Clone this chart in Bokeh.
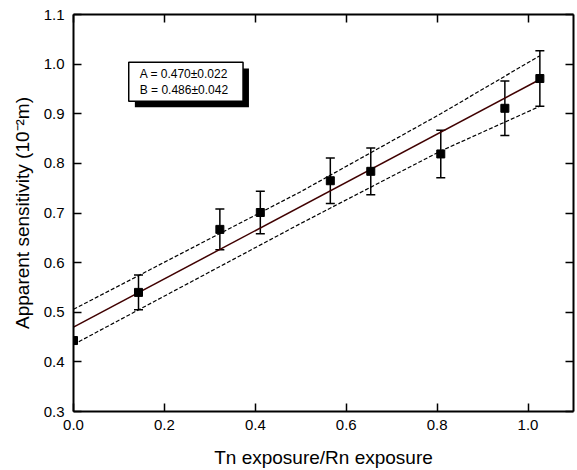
from bokeh.plotting import figure
from bokeh.models import (ColumnDataSource, Whisker, TeeHead, FixedTicker,
                          PrintfTickFormatter, LinearAxis, BoxAnnotation, Label)
from bokeh.embed import file_html
from bokeh.resources import INLINE

# ---- data ----
x_vals = [0.0, 0.143, 0.322, 0.411, 0.565, 0.654, 0.808, 0.949, 1.026]
y_vals = [0.443, 0.540, 0.667, 0.701, 0.765, 0.784, 0.819, 0.911, 0.971]
y_err = [0.0, 0.035, 0.041, 0.043, 0.046, 0.047, 0.048, 0.055, 0.056]

fit_x = [0.0, 1.026]
fit_y = [0.470, 0.969]

band_x = [0.0, 0.5, 0.808, 1.026]
band_upper = [0.506, 0.743, 0.900, 1.017]
band_lower = [0.435, 0.679, 0.825, 0.915]

x_ticks = [0.0, 0.2, 0.4, 0.6, 0.8, 1.0]
y_ticks = [0.3, 0.4, 0.5, 0.6, 0.7, 0.8, 0.9, 1.0, 1.1]

legend_lines = ["A = 0.470\u00b10.022", "B = 0.486\u00b10.042"]

FONT = "Liberation Sans"

p = figure(width=577, height=470, x_range=(0.0, 1.1), y_range=(0.3, 1.1),
           output_backend="svg", toolbar_location=None,
           min_border_left=73, min_border_right=4, min_border_top=14, min_border_bottom=10)
p.grid.visible = False
p.outline_line_color = None
p.background_fill_color = "white"
p.border_fill_color = "white"

for ax in (p.xaxis[0], p.yaxis[0]):
    ax.axis_line_width = 2
    ax.major_tick_in = 8
    ax.major_tick_out = 0
    ax.major_tick_line_width = 1.5
    ax.minor_tick_line_color = None
    ax.major_label_text_font = FONT
    ax.major_label_text_font_size = "15px"
    ax.major_label_text_color = "black"
    ax.axis_label_text_font = FONT
    ax.axis_label_text_font_size = "19px"
    ax.axis_label_text_font_style = "normal"
    ax.axis_label_text_color = "black"

p.xaxis[0].ticker = FixedTicker(ticks=x_ticks)
p.yaxis[0].ticker = FixedTicker(ticks=y_ticks)
p.xaxis[0].formatter = PrintfTickFormatter(format="%.1f")
p.yaxis[0].formatter = PrintfTickFormatter(format="%.1f")
p.xaxis[0].major_label_standoff = 8
p.yaxis[0].major_label_standoff = 9
p.xaxis[0].axis_label = "Tn exposure/Rn exposure"
p.yaxis[0].axis_label = "Apparent sensitivity (10\u207b\u00b2m)"
p.xaxis[0].axis_label_standoff = 14
p.yaxis[0].axis_label_standoff = 8

# mirror axes (ticks only)
top = LinearAxis(ticker=FixedTicker(ticks=x_ticks),
                 major_label_overrides={t: "" for t in x_ticks},
                 axis_line_width=2, major_tick_in=8, major_tick_out=0,
                 major_tick_line_width=1.5, minor_tick_line_color=None,
                 major_label_standoff=0)
right = LinearAxis(ticker=FixedTicker(ticks=y_ticks),
                   major_label_overrides={t: "" for t in y_ticks},
                   axis_line_width=2, major_tick_in=8, major_tick_out=0,
                   major_tick_line_width=1.5, minor_tick_line_color=None,
                   major_label_standoff=0)
p.add_layout(top, "above")
p.add_layout(right, "right")

# confidence bands
p.line(band_x, band_upper, line_color="black", line_width=1.2, line_dash="4 2")
p.line(band_x, band_lower, line_color="black", line_width=1.2, line_dash="4 2")
# fit line
p.line(fit_x, fit_y, line_color="#400000", line_width=1.5)

# error bars
src = ColumnDataSource(dict(x=x_vals, y=y_vals,
                            lo=[y - e for y, e in zip(y_vals, y_err)],
                            hi=[y + e for y, e in zip(y_vals, y_err)]))
w = Whisker(base="x", lower="lo", upper="hi", source=src,
            line_color="black", line_width=1.5,
            upper_head=TeeHead(size=9, line_color="black", line_width=1.5),
            lower_head=TeeHead(size=9, line_color="black", line_width=1.5))
p.add_layout(w)
p.scatter("x", "y", source=src, marker="square", size=8,
          fill_color="black", line_color="black")

# legend box with shadow
p.add_layout(BoxAnnotation(left=0.135, right=0.386, bottom=0.913, top=0.991,
                           fill_color="black", fill_alpha=1, line_color=None, level="overlay"))
p.add_layout(BoxAnnotation(left=0.1215, right=0.373, bottom=0.925, top=1.0036,
                           fill_color="white", fill_alpha=1, line_color="black",
                           line_width=1.5, line_alpha=1, level="overlay"))
for i, txt in enumerate(legend_lines):
    p.add_layout(Label(x=0.1457, y=0.980 - i * 0.032, text=txt,
                       text_font=FONT, text_font_size="12px",
                       text_baseline="middle", text_color="black", level="overlay"))

open("out.html", "w").write(file_html(p, INLINE))
